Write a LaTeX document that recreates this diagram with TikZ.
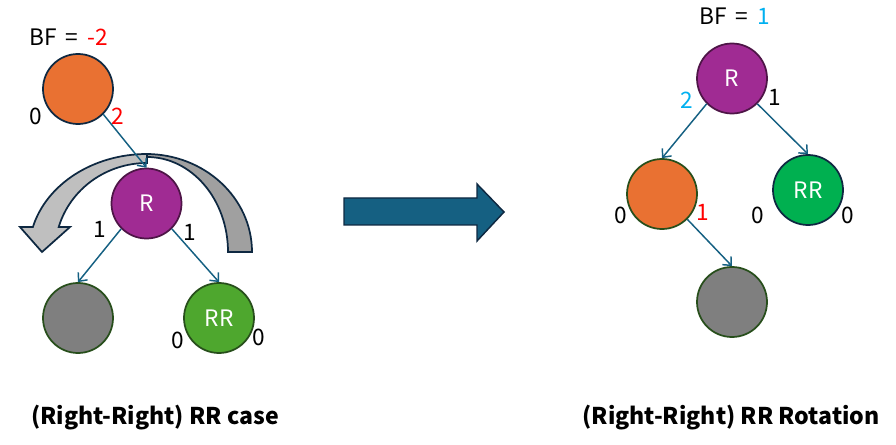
\documentclass[tikz,border=0pt]{standalone}
\usepackage{fontspec}
\setmainfont{Noto Sans CJK KR}
\usetikzlibrary{arrows.meta}
\definecolor{nodeorange}{HTML}{E97132}
\definecolor{nodepurple}{HTML}{A02B93}
\definecolor{nodegreen}{HTML}{4EA72E}
\definecolor{nodegreenb}{HTML}{00B050}
\definecolor{nodegray}{HTML}{7F7F7F}
\definecolor{linkblue}{HTML}{156082}
\definecolor{darknavy}{HTML}{0E2841}
\definecolor{outgreen}{HTML}{274E1B}
\definecolor{outpurple}{HTML}{4E1547}
\definecolor{bfred}{HTML}{FF0000}
\definecolor{bfblue}{HTML}{00B0F0}
\definecolor{bandlight}{HTML}{BFBFBF}
\definecolor{banddark}{HTML}{A0A0A0}

\tikzset{
  tnode/.style={circle, draw, line width=1.3pt, minimum size=52.5pt, inner sep=0pt, text=white},
  link/.style={->, line width=1.1pt, draw=linkblue},
  num/.style={inner sep=0pt},
}

\begin{document}
\begin{tikzpicture}[x=0.75pt, y=-0.75pt, >={Straight Barb[length=5pt,width=9pt]},
  font=\fontsize{17}{20}\selectfont]
\useasboundingbox (0,0) rectangle (896,445);

% rotation arrow round R
\begin{scope}[draw=darknavy, line width=1.3pt]
  \filldraw[fill=banddark] (252,252) arc[start angle=0, end angle=-90, x radius=106, y radius=98]
    -- (147,157) arc[start angle=-90, end angle=0, x radius=81, y radius=95] -- cycle;
  \filldraw[fill=bandlight] (32.9,227) arc[start angle=194.78, end angle=270, x radius=118, y radius=98]
    -- (147,163) arc[start angle=270, end angle=196.3, x radius=92, y radius=89]
    -- (70,227) -- (42,252) -- (20,227) -- cycle;
\end{scope}

% big arrow
\filldraw[fill=linkblue, draw=darknavy, line width=1.1pt] (344,198) -- (477,198) -- (477,184)
  -- (504,212) -- (477,241) -- (477,225) -- (344,225) -- cycle;

% RR case
\node[anchor=west, inner sep=0pt] (bfa) at (29,37) {BF\hspace{7pt}=\hspace{7pt}\textcolor{bfred}{-2}};
\node[tnode, fill=nodeorange, draw=darknavy] (top) at (78,89) {};
\node[tnode, fill=nodepurple, draw=outpurple] (r) at (146.5,203.5) {R};
\node[tnode, fill=nodegray, draw=outgreen] (low) at (78,318) {};
\node[tnode, fill=nodegreen, draw=outgreen] (rr) at (219,318) {RR};

\draw[link] (top.south east) -- (r.north);
\draw[link] (r.south west) -- (low.north);
\draw[link] (r.south east) -- (rr.north);

\node[num] (ta) at (36,116) {0};
\node[num, text=bfred] (tb) at (118,116) {2};
\node[num] (ra) at (100,229) {1};
\node[num] (rb) at (190,232) {1};
\node[num] (rra) at (178,340) {0};
\node[num] (rrb) at (259,337) {0};

% RR rotation
\node[anchor=west, inner sep=0pt] (bfb) at (699,16) {BF\hspace{7pt}=\hspace{7pt}\textcolor{bfblue}{1}};
\node[tnode, fill=nodepurple, draw=outpurple] (r2) at (732,78.5) {R};
\node[tnode, fill=nodeorange, draw=outgreen] (top2) at (662,194) {};
\node[tnode, fill=nodegreenb, draw=darknavy] (rr2) at (808,190) {RR};
\node[tnode, fill=nodegray, draw=outgreen] (low2) at (732,302) {};

\draw[link] (r2.south west) -- (top2.north);
\draw[link] (r2.south east) -- (rr2.north);
\draw[link] (top2.south east) -- (low2.north);

\node[num, text=bfblue] (r2a) at (687,100) {2};
\node[num] (r2b) at (775,97) {1};
\node[num] (t2a) at (621,215) {0};
\node[num, text=bfred] (t2b) at (703,212) {1};
\node[num] (rr2a) at (758,215) {0};
\node[num] (rr2b) at (848,215) {0};

% captions
\node[font=\fontsize{17.3}{20}\selectfont\bfseries] (capa) at (155,418) {(Right-Right) RR case};
\node[font=\fontsize{17.3}{20}\selectfont\bfseries] (capb) at (731,418) {(Right-Right) RR Rotation};

\end{tikzpicture}
\end{document}
